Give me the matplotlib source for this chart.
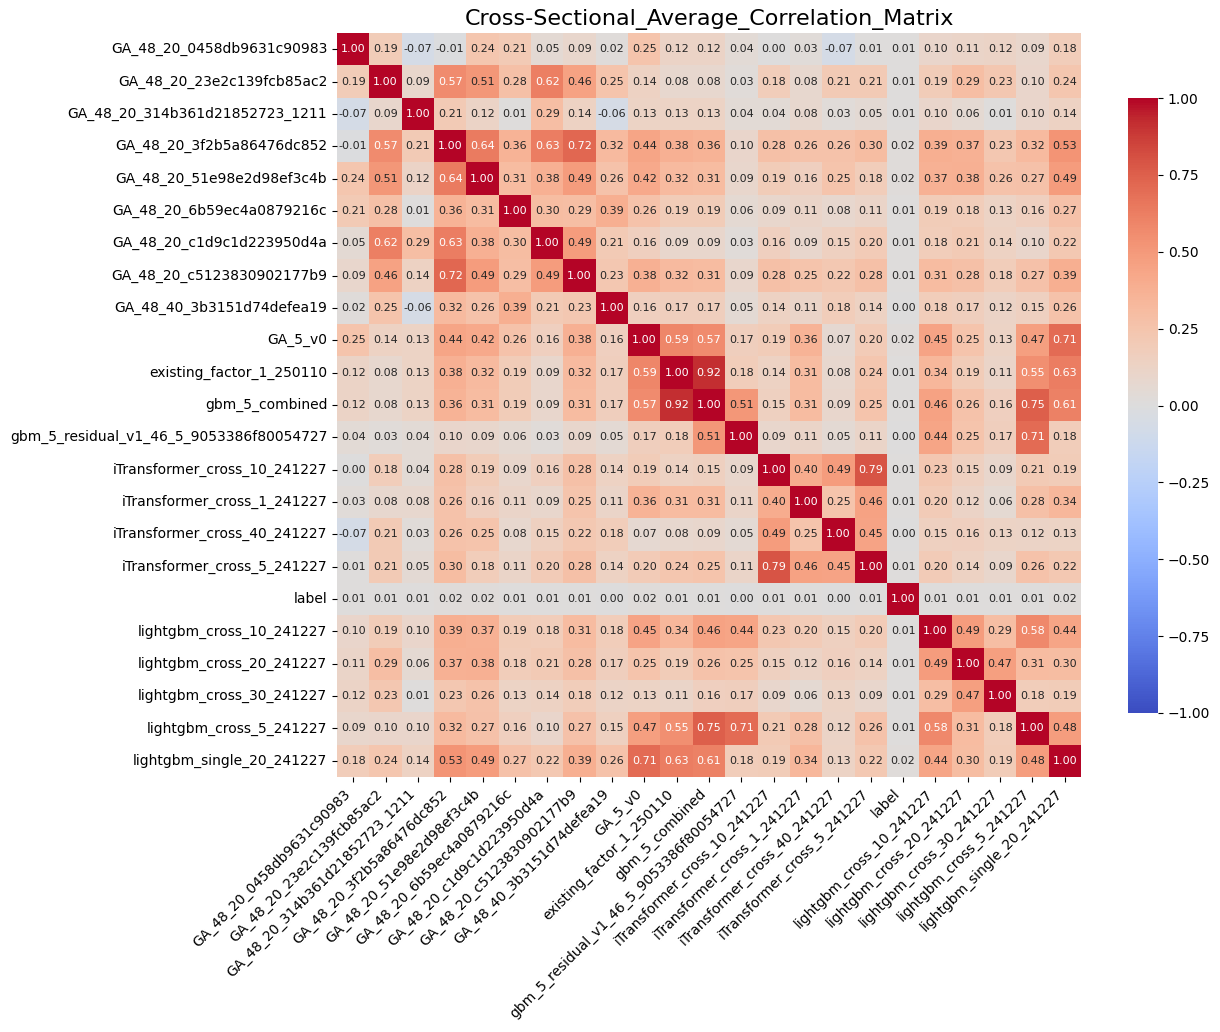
import numpy as np
import pandas as pd
import matplotlib
matplotlib.use("Agg")
import matplotlib.pyplot as plt
import seaborn as sns

# factor names (rows == columns)
factors = [
    "GA_48_20_0458db9631c90983",
    "GA_48_20_23e2c139fcb85ac2",
    "GA_48_20_314b361d21852723_1211",
    "GA_48_20_3f2b5a86476dc852",
    "GA_48_20_51e98e2d98ef3c4b",
    "GA_48_20_6b59ec4a0879216c",
    "GA_48_20_c1d9c1d223950d4a",
    "GA_48_20_c5123830902177b9",
    "GA_48_40_3b3151d74defea19",
    "GA_5_v0",
    "existing_factor_1_250110",
    "gbm_5_combined",
    "gbm_5_residual_v1_46_5_9053386f80054727",
    "iTransformer_cross_10_241227",
    "iTransformer_cross_1_241227",
    "iTransformer_cross_40_241227",
    "iTransformer_cross_5_241227",
    "label",
    "lightgbm_cross_10_241227",
    "lightgbm_cross_20_241227",
    "lightgbm_cross_30_241227",
    "lightgbm_cross_5_241227",
    "lightgbm_single_20_241227",
]

# average cross-sectional correlations, one row per factor
corr_rows = [
    [1.00, 0.19, -0.07, -0.01, 0.24, 0.21, 0.05, 0.09, 0.02, 0.25, 0.12, 0.12, 0.04, 0.00, 0.03, -0.07, 0.01, 0.01, 0.10, 0.11, 0.12, 0.09, 0.18],
    [0.19, 1.00, 0.09, 0.57, 0.51, 0.28, 0.62, 0.46, 0.25, 0.14, 0.08, 0.08, 0.03, 0.18, 0.08, 0.21, 0.21, 0.01, 0.19, 0.29, 0.23, 0.10, 0.24],
    [-0.07, 0.09, 1.00, 0.21, 0.12, 0.01, 0.29, 0.14, -0.06, 0.13, 0.13, 0.13, 0.04, 0.04, 0.08, 0.03, 0.05, 0.01, 0.10, 0.06, 0.01, 0.10, 0.14],
    [-0.01, 0.57, 0.21, 1.00, 0.64, 0.36, 0.63, 0.72, 0.32, 0.44, 0.38, 0.36, 0.10, 0.28, 0.26, 0.26, 0.30, 0.02, 0.39, 0.37, 0.23, 0.32, 0.53],
    [0.24, 0.51, 0.12, 0.64, 1.00, 0.31, 0.38, 0.49, 0.26, 0.42, 0.32, 0.31, 0.09, 0.19, 0.16, 0.25, 0.18, 0.02, 0.37, 0.38, 0.26, 0.27, 0.49],
    [0.21, 0.28, 0.01, 0.36, 0.31, 1.00, 0.30, 0.29, 0.39, 0.26, 0.19, 0.19, 0.06, 0.09, 0.11, 0.08, 0.11, 0.01, 0.19, 0.18, 0.13, 0.16, 0.27],
    [0.05, 0.62, 0.29, 0.63, 0.38, 0.30, 1.00, 0.49, 0.21, 0.16, 0.09, 0.09, 0.03, 0.16, 0.09, 0.15, 0.20, 0.01, 0.18, 0.21, 0.14, 0.10, 0.22],
    [0.09, 0.46, 0.14, 0.72, 0.49, 0.29, 0.49, 1.00, 0.23, 0.38, 0.32, 0.31, 0.09, 0.28, 0.25, 0.22, 0.28, 0.01, 0.31, 0.28, 0.18, 0.27, 0.39],
    [0.02, 0.25, -0.06, 0.32, 0.26, 0.39, 0.21, 0.23, 1.00, 0.16, 0.17, 0.17, 0.05, 0.14, 0.11, 0.18, 0.14, 0.00, 0.18, 0.17, 0.12, 0.15, 0.26],
    [0.25, 0.14, 0.13, 0.44, 0.42, 0.26, 0.16, 0.38, 0.16, 1.00, 0.59, 0.57, 0.17, 0.19, 0.36, 0.07, 0.20, 0.02, 0.45, 0.25, 0.13, 0.47, 0.71],
    [0.12, 0.08, 0.13, 0.38, 0.32, 0.19, 0.09, 0.32, 0.17, 0.59, 1.00, 0.92, 0.18, 0.14, 0.31, 0.08, 0.24, 0.01, 0.34, 0.19, 0.11, 0.55, 0.63],
    [0.12, 0.08, 0.13, 0.36, 0.31, 0.19, 0.09, 0.31, 0.17, 0.57, 0.92, 1.00, 0.51, 0.15, 0.31, 0.09, 0.25, 0.01, 0.46, 0.26, 0.16, 0.75, 0.61],
    [0.04, 0.03, 0.04, 0.10, 0.09, 0.06, 0.03, 0.09, 0.05, 0.17, 0.18, 0.51, 1.00, 0.09, 0.11, 0.05, 0.11, 0.00, 0.44, 0.25, 0.17, 0.71, 0.18],
    [0.00, 0.18, 0.04, 0.28, 0.19, 0.09, 0.16, 0.28, 0.14, 0.19, 0.14, 0.15, 0.09, 1.00, 0.40, 0.49, 0.79, 0.01, 0.23, 0.15, 0.09, 0.21, 0.19],
    [0.03, 0.08, 0.08, 0.26, 0.16, 0.11, 0.09, 0.25, 0.11, 0.36, 0.31, 0.31, 0.11, 0.40, 1.00, 0.25, 0.46, 0.01, 0.20, 0.12, 0.06, 0.28, 0.34],
    [-0.07, 0.21, 0.03, 0.26, 0.25, 0.08, 0.15, 0.22, 0.18, 0.07, 0.08, 0.09, 0.05, 0.49, 0.25, 1.00, 0.45, 0.00, 0.15, 0.16, 0.13, 0.12, 0.13],
    [0.01, 0.21, 0.05, 0.30, 0.18, 0.11, 0.20, 0.28, 0.14, 0.20, 0.24, 0.25, 0.11, 0.79, 0.46, 0.45, 1.00, 0.01, 0.20, 0.14, 0.09, 0.26, 0.22],
    [0.01, 0.01, 0.01, 0.02, 0.02, 0.01, 0.01, 0.01, 0.00, 0.02, 0.01, 0.01, 0.00, 0.01, 0.01, 0.00, 0.01, 1.00, 0.01, 0.01, 0.01, 0.01, 0.02],
    [0.10, 0.19, 0.10, 0.39, 0.37, 0.19, 0.18, 0.31, 0.18, 0.45, 0.34, 0.46, 0.44, 0.23, 0.20, 0.15, 0.20, 0.01, 1.00, 0.49, 0.29, 0.58, 0.44],
    [0.11, 0.29, 0.06, 0.37, 0.38, 0.18, 0.21, 0.28, 0.17, 0.25, 0.19, 0.26, 0.25, 0.15, 0.12, 0.16, 0.14, 0.01, 0.49, 1.00, 0.47, 0.31, 0.30],
    [0.12, 0.23, 0.01, 0.23, 0.26, 0.13, 0.14, 0.18, 0.12, 0.13, 0.11, 0.16, 0.17, 0.09, 0.06, 0.13, 0.09, 0.01, 0.29, 0.47, 1.00, 0.18, 0.19],
    [0.09, 0.10, 0.10, 0.32, 0.27, 0.16, 0.10, 0.27, 0.15, 0.47, 0.55, 0.75, 0.71, 0.21, 0.28, 0.12, 0.26, 0.01, 0.58, 0.31, 0.18, 1.00, 0.48],
    [0.18, 0.24, 0.14, 0.53, 0.49, 0.27, 0.22, 0.39, 0.26, 0.71, 0.63, 0.61, 0.18, 0.19, 0.34, 0.13, 0.22, 0.02, 0.44, 0.30, 0.19, 0.48, 1.00],
]

corr = pd.DataFrame(np.array(corr_rows), index=factors, columns=factors)

W, H = 1220, 1032
fig = plt.figure(figsize=(W / 100, H / 100), dpi=100)
# heatmap area and colorbar placed to match the original layout (pixel boxes)
ax = fig.add_axes([337 / W, (H - 777) / H, 744 / W, 744 / H])
cax = fig.add_axes([1128 / W, (H - 713) / H, 30 / W, 615 / H])

sns.heatmap(corr, annot=True, fmt=".2f", cmap="coolwarm", vmin=-1, vmax=1,
            center=0, square=True, annot_kws={"size": 8},
            ax=ax, cbar_ax=cax)
ax.set_title("Cross-Sectional_Average_Correlation_Matrix", fontsize=16)
plt.setp(ax.get_xticklabels(), rotation=45, ha="right")
plt.setp(ax.get_yticklabels(), rotation=0)

plt.savefig("out.png", dpi=100)
plt.close()
